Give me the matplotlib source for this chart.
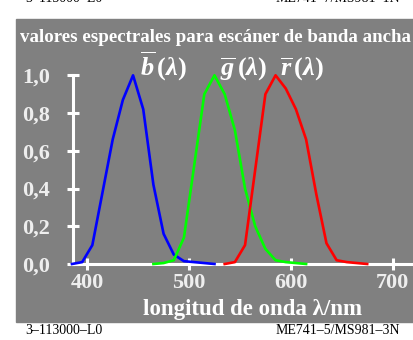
import matplotlib.pyplot as plt
from matplotlib.patches import Rectangle

plt.rcParams['font.family'] = ['Liberation Serif', 'DejaVu Serif']
plt.rcParams['mathtext.fontset'] = 'custom'
plt.rcParams['mathtext.it'] = 'Liberation Serif:italic:bold'
plt.rcParams['mathtext.rm'] = 'Liberation Serif:bold'

# spectral sensitivities
wl_b = [385, 395, 405, 415, 425, 435, 445, 455, 465, 475, 485, 495, 505, 515, 525]
val_b = [0.0, 0.01, 0.10, 0.38, 0.66, 0.87, 1.0, 0.82, 0.42, 0.16, 0.05, 0.015, 0.01, 0.005, 0.0]

wl_g = [465, 475, 485, 495, 505, 515, 525, 535, 545, 555, 565, 575, 585, 595, 605, 615]
val_g = [0.0, 0.005, 0.02, 0.14, 0.52, 0.9, 1.0, 0.9, 0.71, 0.4, 0.2, 0.08, 0.02, 0.01, 0.005, 0.0]

wl_r = [535, 545, 555, 565, 575, 585, 595, 605, 615, 625, 635, 645, 655, 675]
val_r = [0.0, 0.01, 0.1, 0.5, 0.9, 1.0, 0.93, 0.82, 0.66, 0.37, 0.11, 0.02, 0.01, 0.0]

xticks = [400, 500, 600, 700]
yticks = [0.0, 0.2, 0.4, 0.6, 0.8, 1.0]
ylabels = ['0,0', '0,2', '0,4', '0,6', '0,8', '1,0']

W, H = 413, 340
fig = plt.figure(figsize=(W / 100, H / 100), dpi=100)
fig.patches.append(Rectangle((16 / W, 18 / H), 1 - 16 / W, (322 - 19) / H,
                             transform=fig.transFigure, color='#808080', zorder=-5))

ax = fig.add_axes([73 / W, 76 / H, 340 / W, 217 / H])
ax.set_facecolor('none')
ax.plot(wl_b, val_b, color='#0000ff', lw=1.9, clip_on=False)
ax.plot(wl_g, val_g, color='#00ff00', lw=1.9, clip_on=False)
ax.plot(wl_r, val_r, color='#ff0000', lw=1.9, clip_on=False)

ax.set_xlim(386, 720)
ax.set_ylim(0, 1.15)
for s in ['top', 'right']:
    ax.spines[s].set_visible(False)
for s in ['left', 'bottom']:
    ax.spines[s].set_color('white')
    ax.spines[s].set_linewidth(2.2)
    ax.spines[s].set_zorder(0.5)
ax.spines['left'].set_bounds(0, 1.0)

ax.set_xticks(xticks)
ax.set_xticklabels([str(x) for x in xticks])
ax.set_yticks(yticks)
ax.set_yticklabels(ylabels)
ax.tick_params(colors='white', direction='inout', length=9, width=2.2, labelsize=16)
ax.tick_params(axis='x', pad=2)
ax.tick_params(axis='y', pad=12)
for lab in ax.get_xticklabels() + ax.get_yticklabels():
    lab.set_fontweight('bold')
    lab.set_color('#eeeeee')

fig.text(253 / W, 1 - 309 / H, 'longitud de onda λ/nm', fontsize=16.5, fontweight='bold',
         color='white', ha='center', va='center')

for x, s in [(452, r'$\overline{b}\,(\lambda)$'), (530, r'$\overline{g}\,(\lambda)$'),
             (589, r'$\overline{r}\,(\lambda)$')]:
    ax.text(x, 0.96, s, fontsize=19, color='white', ha='left', va='bottom')

fig.text(215 / W, 1 - 38 / H, 'valores espectrales para escáner de banda ancha',
         fontsize=13.6, fontweight='bold', color='white', ha='center', va='center')

fig.text(25 / W, 1 + 1 / H, '3–113000–L0', fontsize=10, ha='left', va='center')
fig.text(400 / W, 1 + 1 / H, 'ME741–7/MS981–1N', fontsize=10, ha='right', va='center')
fig.text(25 / W, 1 - 330 / H, '3–113000–L0', fontsize=10, ha='left', va='center')
fig.text(400 / W, 1 - 330 / H, 'ME741–5/MS981–3N', fontsize=10, ha='right', va='center')

fig.savefig('out.png', dpi=100)
